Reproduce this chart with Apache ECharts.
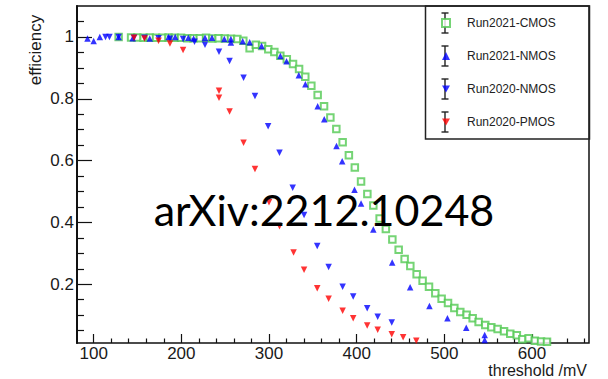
<!DOCTYPE html>
<html><head><meta charset="utf-8">
<script src="https://cdn.jsdelivr.net/npm/echarts@6/dist/echarts.min.js"></script>
<style>html,body{margin:0;padding:0;background:#fff}#c{width:608px;height:379px}</style>
</head><body><div id="c"></div>
<script>
// ---- data ----
const seriesNames = ['Run2021-CMOS', 'Run2021-NMOS', 'Run2020-NMOS', 'Run2020-PMOS'];

const cmosX = [128.5, 142.7, 149.8, 156.9, 164.1, 171.2, 178.4, 185.4, 192.6, 199.7,
  206.9, 213.9, 221.1, 228.2, 235.4, 242.5, 249.6, 256.7, 263.9, 270.7,
  277.9, 285.0, 292.1, 299.2, 306.1, 312.9, 320.3, 327.4, 334.3, 341.4,
  348.3, 355.5, 362.8, 370.0, 376.8, 384.0, 391.1, 397.9, 405.0, 412.2,
  419.0, 426.2, 433.3, 440.7, 447.9, 454.7, 461.2, 468.4, 475.2, 482.5,
  489.7, 496.9, 504.2, 511.4, 518.2, 525.4, 532.3, 539.1, 546.7, 553.6,
  560.8, 568.1, 575.2, 582.7, 588.9, 596.1, 603.2, 610.3, 617.1];
const cmosY = [1.0, 0.998, 0.998, 0.997, 0.998, 0.997, 0.997, 0.998, 0.997, 0.997,
  0.996, 0.996, 0.996, 0.997, 0.995, 0.996, 0.995, 0.994, 0.993, 0.988,
  0.963, 0.975, 0.971, 0.960, 0.951, 0.939, 0.928, 0.912, 0.896, 0.871,
  0.842, 0.812, 0.776, 0.739, 0.702, 0.659, 0.617, 0.578, 0.532, 0.492,
  0.455, 0.413, 0.379, 0.345, 0.312, 0.282, 0.259, 0.232, 0.211, 0.192,
  0.171, 0.153, 0.139, 0.123, 0.110, 0.101, 0.090, 0.078, 0.068, 0.061,
  0.055, 0.048, 0.040, 0.035, 0.022, 0.025, 0.017, 0.015, 0.014];

const nmos21X = [93, 100, 107, 128.5, 144.5, 164, 185.5, 193, 208, 214,
  227, 235, 249, 256.5, 256.5, 270, 278, 291.5, 313, 320,
  334, 341.5, 355.5, 363, 377, 383.5, 397.5, 405, 419, 440.5,
  461, 483, 503.5, 525, 546, 546];
const nmos21Y = [0.995, 0.987, 1.0, 1.0, 0.996, 0.995, 1.0, 1.0, 0.997, 0.995,
  0.997, 0.997, 0.993, 0.993, 0.982, 0.986, 0.983, 0.971, 0.938, 0.921,
  0.876, 0.847, 0.776, 0.734, 0.647, 0.598, 0.506, 0.461, 0.377, 0.270,
  0.190, 0.130, 0.090, 0.059, 0.036, 0.020];

const nmos20X = [113.5, 118, 128.5, 146, 158, 174, 187, 202, 215, 227,
  243, 255, 271, 284, 299, 312, 327, 340, 355, 368,
  384, 396, 412, 424, 440];
const nmos20Y = [1.0, 1.0, 1.0, 0.997, 0.997, 0.996, 0.994, 0.993, 0.984, 0.975,
  0.952, 0.922, 0.868, 0.809, 0.711, 0.625, 0.512, 0.424, 0.324, 0.256,
  0.192, 0.160, 0.122, 0.095, 0.076];

const pmos20X = [146, 158, 174, 187, 202, 243, 243, 255, 271, 284,
  300, 312, 328, 340, 355, 368, 384, 396, 412, 424,
  440, 453, 468];
const pmos20Y = [0.997, 0.995, 0.988, 0.979, 0.958, 0.826, 0.803, 0.759, 0.658, 0.573,
  0.465, 0.388, 0.303, 0.247, 0.187, 0.153, 0.114, 0.090, 0.067, 0.053,
  0.038, 0.029, 0.017];

const xMajorTicks = [100, 200, 300, 400, 500, 600];
const xMinorTicks = [120, 140, 160, 180, 220, 240, 260, 280, 320, 340, 360, 380,
  420, 440, 460, 480, 520, 540, 560, 580, 620, 640, 660];
const yMajorTicks = [0.2, 0.4, 0.6, 0.8, 1];
const yMinorTicks = [0.05, 0.1, 0.15, 0.25, 0.3, 0.35, 0.45, 0.5, 0.55, 0.65, 0.7, 0.75,
  0.85, 0.9, 0.95, 1.05];

const xTitle = 'threshold /mV';
const yTitle = 'efficiency';
const watermark = 'arXiv:2212.10248';

// ---- chart ----
const zip = (xs, ys) => xs.map((x, i) => [x, ys[i]]);
const downTri = 'path://M0,0L10,0L5,9Z';
const ink = '#1a1a1a';
const axisFont = 'Liberation Sans';

const chart = echarts.init(document.getElementById('c'), null, {renderer: 'svg'});

const legendRows = [23, 56, 89, 122];
const errBars = [];
legendRows.forEach(cy => {
  errBars.push({type: 'line', shape: {x1: 445, y1: cy - 10, x2: 445, y2: cy + 10}, style: {stroke: '#222', lineWidth: 1.4}, z: 1});
  errBars.push({type: 'line', shape: {x1: 441.5, y1: cy - 10, x2: 448.5, y2: cy - 10}, style: {stroke: '#222', lineWidth: 1.4}, z: 1});
  errBars.push({type: 'line', shape: {x1: 441.5, y1: cy + 10, x2: 448.5, y2: cy + 10}, style: {stroke: '#222', lineWidth: 1.4}, z: 1});
});

chart.setOption({
  animation: false,
  backgroundColor: '#fff',
  grid: {left: 77, top: 6, right: 19, bottom: 36, show: true, borderColor: '#111', borderWidth: 1.5},
  xAxis: [{
    type: 'value', min: 81, max: 665, position: 'bottom',
    axisLine: {show: false}, splitLine: {show: false},
    axisTick: {inside: true, length: 9, customValues: xMajorTicks, lineStyle: {color: '#111', width: 1.2}},
    axisLabel: {customValues: xMajorTicks, margin: 3, fontSize: 17, lineHeight: 15, fontFamily: axisFont, color: ink}
  }, {
    type: 'value', min: 81, max: 665, position: 'bottom', offset: 0,
    axisLine: {show: false}, splitLine: {show: false}, axisLabel: {show: false},
    axisTick: {inside: true, length: 4.5, customValues: xMinorTicks, lineStyle: {color: '#111', width: 1.2}}
  }],
  yAxis: [{
    type: 'value', min: 0.01, max: 1.1, position: 'left',
    axisLine: {show: true, lineStyle: {color: '#111', width: 2}}, splitLine: {show: false},
    axisTick: {inside: true, length: 15, customValues: yMajorTicks, lineStyle: {color: '#111', width: 1.2}},
    axisLabel: {customValues: yMajorTicks, margin: 3, fontSize: 17, fontFamily: axisFont, color: ink}
  }, {
    type: 'value', min: 0.01, max: 1.1, position: 'left', offset: 0,
    axisLine: {show: false}, splitLine: {show: false}, axisLabel: {show: false},
    axisTick: {inside: true, length: 7, customValues: yMinorTicks, lineStyle: {color: '#111', width: 1.2}}
  }],
  legend: {
    orient: 'vertical', left: 441, top: 16, padding: 0,
    itemWidth: 8, itemHeight: 8, itemGap: 19,
    textStyle: {fontSize: 12, fontFamily: axisFont, color: '#222', lineHeight: 14, padding: [0, 0, 0, 12]},
    data: seriesNames
  },
  series: [{
    name: seriesNames[0], type: 'scatter', data: zip(cmosX, cmosY), clip: false,
    symbol: 'emptyRect', symbolSize: 6.5,
    itemStyle: {color: '#52c952', borderColor: '#52c952', borderWidth: 1.3}
  }, {
    name: seriesNames[1], type: 'scatter', data: zip(nmos21X, nmos21Y), clip: false,
    symbol: 'triangle', symbolSize: 6.5, itemStyle: {color: '#0000ff'}
  }, {
    name: seriesNames[2], type: 'scatter', data: zip(nmos20X, nmos20Y), clip: false,
    symbol: downTri, symbolSize: 6.5, itemStyle: {color: '#0000ff'}
  }, {
    name: seriesNames[3], type: 'scatter', data: zip(pmos20X, pmos20Y), clip: false,
    symbol: downTri, symbolSize: 6.5, itemStyle: {color: '#ff0000'}
  }],
  graphic: [
    {type: 'rect', shape: {x: 425.5, y: 6, width: 164, height: 133}, style: {fill: 'none', stroke: '#222', lineWidth: 1.5}, z: 1},
    ...errBars,
    {type: 'text', x: 35, y: 50, rotation: Math.PI / 2,
     style: {text: yTitle, fontSize: 17, fontFamily: axisFont, fill: ink, align: 'center', verticalAlign: 'middle'}},
    {type: 'text', x: 587, y: 370.5,
     style: {text: xTitle, fontSize: 16, lineHeight: 14, fontFamily: axisFont, fill: ink, align: 'right', verticalAlign: 'middle'}},
    {type: 'text', x: 324, y: 209, z: 100,
     style: {text: watermark, fontSize: 43, fontFamily: 'Lato', fill: '#000', align: 'center', verticalAlign: 'middle'}}
  ]
});
</script>
</body></html>
